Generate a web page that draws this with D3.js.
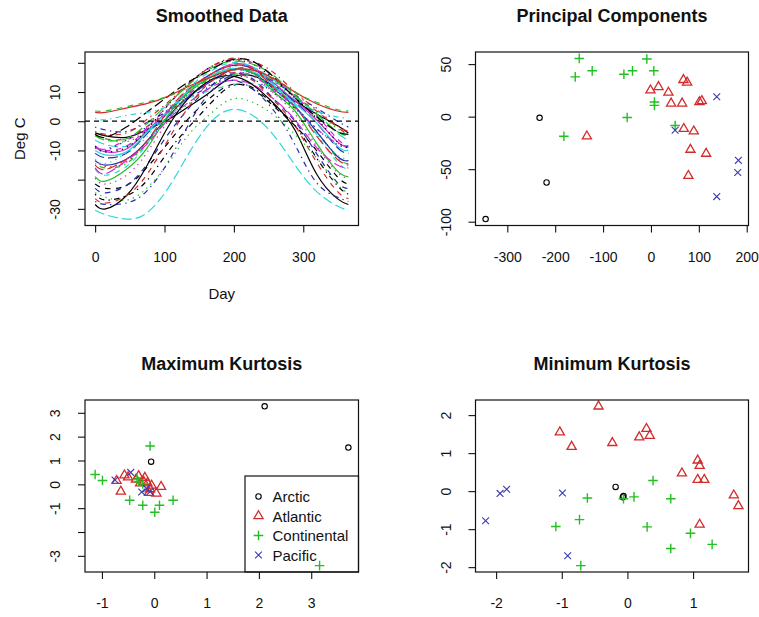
<!DOCTYPE html>
<html>
<head>
<meta charset="utf-8">
<script src="https://cdn.jsdelivr.net/npm/d3@7"></script>
<style>
  body { margin: 0; background: #fff; }
  text { font-family: "Liberation Sans", Arial, sans-serif; fill: #111; }
</style>
</head>
<body>
<div id="chart"></div>
<script>
// ---- smoothed temperature curves (deg C), one row per station ----
var days = [0, 15, 45, 74, 105, 135, 166, 196, 227, 258, 288, 319, 349, 365];
var stations = ["St. Johns","Halifax","Sydney","Yarmouth","Charlottvl","Fredericton","Scheffervll",
  "Arvida","Bagottville","Quebec","Sherbrooke","Montreal","Ottawa","Toronto","London","Thunder Bay",
  "Winnipeg","The Pas","Churchill","Regina","Pr. Albert","Uranium Cty","Edmonton","Calgary","Kamloops",
  "Vancouver","Victoria","Pr. George","Pr. Rupert","Whitehorse","Dawson","Yellowknife","Iqaluit","Inuvik","Resolute"];
var tempCurves = [
  [-4, -5, -5.5, -3, 0.5, 5, 10, 15, 15.5, 12, 7, 2.5, -1.5, -4],
  [-4.5, -6, -6, -2, 3, 8.5, 13.5, 17.5, 18, 14, 8.5, 3.5, -2, -4.5],
  [-4.5, -6, -7, -3.5, 1, 6, 11.5, 17, 17.5, 13.5, 8, 3, -2.5, -4.5],
  [-2, -3, -3.5, -0.5, 3.5, 8, 12, 15.5, 16.5, 13.5, 9, 4.5, 0, -2],
  [-6.5, -8, -8.5, -4, 1.5, 8, 14, 18.5, 18.5, 14, 8.5, 2.5, -4, -6.5],
  [-9, -10.5, -9.5, -3.5, 3.5, 10.5, 16, 19.5, 18.5, 13, 7, 0.5, -7, -9],
  [-21.5, -23, -22, -16, -7.5, 1, 8, 12.5, 11, 5, -1.5, -10, -19, -21.5],
  [-13.5, -15.5, -14, -7, 1.5, 9.5, 15.5, 18, 16.5, 11, 4.5, -3.5, -12, -13.5],
  [-14.5, -16, -14.5, -7.5, 1, 9, 15, 18, 16.5, 11, 4.5, -3.5, -12.5, -14.5],
  [-11, -12.5, -11, -4.5, 3, 10.5, 16, 19, 18, 12.5, 6.5, -0.5, -9, -11],
  [-10, -11.5, -10.5, -4, 3.5, 10.5, 15.5, 18, 17, 12, 6, -0.5, -8.5, -10],
  [-8.5, -10, -8.5, -2.5, 5.5, 13, 18.5, 21, 20, 15, 8.5, 2, -6, -8.5],
  [-9, -10.5, -9, -3, 5.5, 13, 18.5, 21, 19.5, 14.5, 8, 1, -7, -9],
  [-3.5, -4.5, -4, 0.5, 6.5, 13, 18.5, 21.5, 20.5, 16.5, 10, 4, -1.5, -3.5],
  [-5, -6.5, -6, -1, 6, 12.5, 18, 20.5, 19.5, 15.5, 9, 2.5, -3.5, -5],
  [-13.5, -15, -13, -7, 1.5, 8.5, 13.5, 17.5, 16.5, 11, 5, -3.5, -12, -13.5],
  [-16.5, -18.5, -15.5, -8, 3, 11.5, 17, 20, 18.5, 12.5, 5.5, -4.5, -14, -16.5],
  [-19.5, -21.5, -18.5, -11, 0, 8, 14.5, 17.5, 16, 9.5, 2.5, -8.5, -17.5, -19.5],
  [-25, -27, -25.5, -20.5, -10.5, -2, 6, 12, 11.5, 5.5, -1.5, -12.5, -22, -25],
  [-15, -16.5, -13, -7, 3.5, 11, 16, 19, 18, 11.5, 5, -5, -13, -15],
  [-19, -20.5, -16.5, -9.5, 2, 10, 15, 17.5, 16.5, 10, 3.5, -7.5, -17, -19],
  [-23, -24.5, -22, -15, -4.5, 4.5, 12, 16, 14.5, 7.5, 0, -11, -21, -23],
  [-13, -14.5, -11, -5.5, 4, 11, 15, 17.5, 16.5, 11, 5, -4.5, -11.5, -13],
  [-8.5, -9.5, -6.5, -3, 3.5, 9.5, 13.5, 16.5, 15.5, 10.5, 5, -2.5, -7.5, -8.5],
  [-4.5, -5.5, -2, 3, 8.5, 13.5, 17.5, 21, 20.5, 15, 8, 1.5, -3.5, -4.5],
  [3, 3, 4.5, 6, 8.5, 12, 15, 17.5, 17.5, 14.5, 10, 6, 3.5, 3],
  [3.5, 3.5, 5, 6.5, 8.5, 11.5, 14, 16, 16, 14, 10, 6.5, 4, 3.5],
  [-8.5, -10, -6.5, -2, 4, 9, 12.5, 15, 14.5, 9.5, 4.5, -2.5, -8, -8.5],
  [1, 0.5, 2, 3, 5, 8, 10.5, 12.5, 13, 11, 7.5, 3.5, 1.5, 1],
  [-16, -18, -13.5, -8, 0.5, 6.5, 11.5, 14, 12.5, 7.5, 0.5, -9, -15, -16],
  [-28.5, -30, -25.5, -15.5, -2, 8, 14, 15.5, 12.5, 6, -3, -18, -26.5, -28.5],
  [-26.5, -28, -25.5, -18.5, -6.5, 5, 13.5, 16.5, 14, 7, -1.5, -14, -24, -26.5],
  [-24.5, -26, -27, -23, -14.5, -4.5, 2.5, 7.5, 6.5, 2, -4.5, -12.5, -21.5, -24.5],
  [-27.5, -28.5, -28, -24, -14, -1, 10, 14, 11, 3.5, -8, -21, -26, -27.5],
  [-30.5, -32, -33.5, -31.5, -23, -11, -0.5, 4, 2, -5, -15, -24, -29, -30.5]
];

// ---- principal component scores [pc1, pc2] by region ----
var pcArctic = [[-232.6, -1.1], [-218, -62.7], [-345.3, -97.5]];
var pcAtlantic = [[-133.8, -18.7], [-1, 25.1], [15.7, 28.3], [36.5, 22.9], [42.1, 12.6], [65.1, 12.6],
  [67.8, 35], [75.5, 32.5], [101.2, 13.9], [106.2, 14.9], [68.6, -11.6], [89.5, -13.9], [82.4, -31.4],
  [115.2, -35.2], [78.2, -56.3]];
var pcContinental = [[-149.8, 55.4], [-158.1, 37.8], [-122.7, 43.6], [-56.5, 40.4], [-38.6, 43.6],
  [-8.6, 54.8], [6, 43.6], [7.3, 13.9], [7.3, 10.7], [-49.7, -0.8], [-181.8, -18.7], [50.5, -8.4]];
var pcPacific = [[137.4, 19], [50.5, -12.9], [182.6, -41.6], [181.2, -53.1], [137.4, -76.1]];

// ---- maximum kurtosis projection ----
var maxArctic = [[2.11, 3.27], [3.71, 1.54], [-0.06, 0.95]];
var maxAtlantic = [[-0.72, 0.15], [-0.64, -0.3], [-0.57, 0.38], [-0.5, 0.3], [-0.3, 0.35], [-0.27, 0.05],
  [-0.18, 0.28], [-0.13, 0.05], [-0.1, -0.35], [-0.05, -0.05], [0.04, -0.38], [0.13, -0.1], [-0.2, 0.1],
  [-0.08, -0.2], [-0.35, 0.2]];
var maxContinental = [[-0.08, 1.61], [-1.13, 0.41], [-0.99, 0.16], [-0.47, -0.67], [-0.22, -0.88],
  [0.01, -1.17], [0.1, -0.88], [0.36, -0.67], [3.16, -3.41], [-0.33, 0.22], [-0.3, 0.12], [-0.22, 0.02]];
var maxPacific = [[-0.75, 0.18], [-0.45, 0.5], [-0.24, -0.32], [-0.08, -0.3], [-0.15, -0.18]];

// ---- minimum kurtosis projection ----
var minArctic = [[-0.18, 0.11], [-0.06, -0.13], [-0.07, -0.16]];
var minAtlantic = [[-0.44, 2.23], [-1.03, 1.55], [-0.85, 1.17], [-0.23, 1.27], [0.29, 1.64], [0.18, 1.42],
  [0.34, 1.46], [1.07, 0.81], [1.1, 0.67], [0.83, 0.47], [1.07, 0.3], [1.17, 0.3], [1.62, -0.11],
  [1.69, -0.39], [1.1, -0.88]];
var minContinental = [[0.39, 0.28], [-0.61, -0.18], [0.1, -0.15], [-0.06, -0.2], [0.66, -0.2],
  [-0.73, -0.75], [-1.09, -0.93], [0.3, -0.94], [0.96, -1.11], [1.29, -1.4], [0.66, -1.51], [-0.71, -1.96]];
var minPacific = [[-2.16, -0.78], [-1.94, -0.06], [-1.84, 0.05], [-0.99, -0.05], [-0.91, -1.7]];

var regions = ["Arctic", "Atlantic", "Continental", "Pacific"];

// ---- tick values and labels ----
var smoothXTicks = [0, 100, 200, 300];
var smoothYTicks = [-30, -20, -10, 0, 10, 20];
var smoothYLabels = ["-30", "", "-10", "0", "10", ""];
var pcXTicks = [-300, -200, -100, 0, 100, 200];
var pcYTicks = [-100, -50, 0, 50];
var maxXTicks = [-1, 0, 1, 2, 3];
var maxYTicks = [-3, -2, -1, 0, 1, 2, 3];
var maxYLabels = ["-3", "", "-1", "0", "1", "2", "3"];
var minXTicks = [-2, -1, 0, 1];
var minYTicks = [-2, -1, 0, 1, 2];

// R palette look-alikes and lty dash patterns
var rCols = ["#000000", "#d42a2a", "#22c022", "#2a2ab0", "#2ed8d8", "#d02ad0"];
var rDash = [null, "5.5,5.5", "1.4,4.2", "1.4,4.2,5.5,4.2", "10,4"];
var regionCol = ["#000000", "#d42a2a", "#22c022", "#3a3ab0"];

var W = 759, H = 617;
var svg = d3.select("#chart").append("svg")
  .attr("width", W).attr("height", H);
svg.append("rect").attr("width", W).attr("height", H).attr("fill", "#fff");

// plot boxes (like par(mfrow=c(2,2)))
var boxes = [
  {x0: 85, x1: 358.5, y0: 52, y1: 225.5},
  {x0: 475.5, x1: 748.5, y0: 52, y1: 225.5},
  {x0: 85, x1: 358.5, y0: 400, y1: 572},
  {x0: 475.5, x1: 748.5, y0: 400, y1: 572}
];

function pad(ext) {   // R's 4% axis extension
  var d = (ext[1] - ext[0]) * 0.04;
  return [ext[0] - d, ext[1] + d];
}

function fmt(v) { return String(v); }

function drawFrame(b, x, y, xt, yt, ylab, title) {
  var g = svg.append("g");
  var ax = g.append("g").attr("transform", "translate(0," + b.y1 + ")")
    .call(d3.axisBottom(x).tickValues(xt).tickSizeOuter(0).tickSizeInner(7).tickFormat(fmt));
  ax.select(".domain").remove();
  ax.selectAll("line").attr("stroke", "#111").attr("stroke-width", 1.1);
  ax.selectAll("text").attr("y", 36).attr("dy", null)
    .style("font-size", "14px").attr("fill", "#111");

  var ay = g.append("g").attr("transform", "translate(" + b.x0 + ",0)")
    .call(d3.axisLeft(y).tickValues(yt).tickSizeOuter(0).tickSizeInner(7)
      .tickFormat(function(d, i) { return ylab ? ylab[i] : fmt(d); }));
  ay.select(".domain").remove();
  ay.selectAll("line").attr("stroke", "#111").attr("stroke-width", 1.1);
  ay.selectAll("text").attr("x", null).attr("dy", null)
    .attr("text-anchor", "middle")
    .attr("transform", "translate(-25,0) rotate(-90)")
    .style("font-size", "14px").attr("fill", "#111");

  g.append("rect")
    .attr("x", b.x0).attr("y", b.y0)
    .attr("width", b.x1 - b.x0).attr("height", b.y1 - b.y0)
    .attr("fill", "none").attr("stroke", "#111").attr("stroke-width", 1.2);

  svg.append("text")
    .attr("x", (b.x0 + b.x1) / 2).attr("y", b.y0 - 30)
    .attr("text-anchor", "middle")
    .style("font-size", "18px").style("font-weight", "bold")
    .text(title);
}

// R point characters: 1 circle, 2 triangle, 3 plus, 4 cross
var R = 3.4;
function drawPch(g, type, cx, cy, col) {
  if (type === 0) {
    g.append("circle").attr("cx", cx).attr("cy", cy).attr("r", 2.7)
      .attr("fill", "none").attr("stroke", col).attr("stroke-width", 1.1);
  } else if (type === 1) {
    var r = 1.555 * R, xc = 0.866 * r, yc = 0.5 * r;
    g.append("path")
      .attr("d", "M" + cx + "," + (cy - r) + "L" + (cx + xc) + "," + (cy + yc) + "L" + (cx - xc) + "," + (cy + yc) + "Z")
      .attr("fill", "none").attr("stroke", col).attr("stroke-width", 1.3);
  } else if (type === 2) {
    var s = 1.414 * R;
    g.append("path")
      .attr("d", "M" + (cx - s) + "," + cy + "H" + (cx + s) + "M" + cx + "," + (cy - s) + "V" + (cy + s))
      .attr("stroke", col).attr("stroke-width", 1.4);
  } else {
    g.append("path")
      .attr("d", "M" + (cx - R) + "," + (cy - R) + "L" + (cx + R) + "," + (cy + R) +
        "M" + (cx - R) + "," + (cy + R) + "L" + (cx + R) + "," + (cy - R))
      .attr("stroke", col).attr("stroke-width", 1.1);
  }
}

// ---------- panel 1: smoothed data ----------
(function() {
  var b = boxes[0];
  var x = d3.scaleLinear().domain(pad(d3.extent(days))).range([b.x0, b.x1]);
  var y = d3.scaleLinear().domain(pad(d3.extent(d3.merge(tempCurves)))).range([b.y1, b.y0]);
  var line = d3.line()
    .x(function(d, i) { return x(days[i]); })
    .y(function(d) { return y(d); })
    .curve(d3.curveNatural);
  svg.append("g").selectAll("path").data(tempCurves).join("path")
    .attr("d", line)
    .attr("fill", "none")
    .attr("stroke", function(d, i) { return rCols[i % 6]; })
    .attr("stroke-width", 1.2)
    .attr("stroke-dasharray", function(d, i) { return rDash[i % 5]; });
  svg.append("line")
    .attr("x1", b.x0).attr("x2", b.x1).attr("y1", y(0)).attr("y2", y(0))
    .attr("stroke", "#000").attr("stroke-width", 1.3).attr("stroke-dasharray", "5,4");
  drawFrame(b, x, y, smoothXTicks, smoothYTicks, smoothYLabels, "Smoothed Data");
  svg.append("text").attr("x", (b.x0 + b.x1) / 2).attr("y", b.y1 + 73)
    .attr("text-anchor", "middle").style("font-size", "15px").text("Day");
  svg.append("text").attr("transform", "translate(25," + ((b.y0 + b.y1) / 2) + ") rotate(-90)")
    .attr("text-anchor", "middle").style("font-size", "15px").text("Deg C");
})();

// ---------- scatter panels ----------
var layers = [];
function scatter(b, groups, xt, yt, ylab, title) {
  var all = d3.merge(groups);
  var x = d3.scaleLinear().domain(pad(d3.extent(all, function(d) { return d[0]; }))).range([b.x0, b.x1]);
  var y = d3.scaleLinear().domain(pad(d3.extent(all, function(d) { return d[1]; }))).range([b.y1, b.y0]);
  var g = svg.append("g");
  layers.push(g);
  groups.forEach(function(pts, k) {
    pts.forEach(function(p) { drawPch(g, k, x(p[0]), y(p[1]), regionCol[k]); });
  });
  drawFrame(b, x, y, xt, yt, ylab, title);
}

scatter(boxes[1], [pcArctic, pcAtlantic, pcContinental, pcPacific], pcXTicks, pcYTicks, null, "Principal Components");
scatter(boxes[2], [maxArctic, maxAtlantic, maxContinental, maxPacific], maxXTicks, maxYTicks, maxYLabels, "Maximum Kurtosis");
scatter(boxes[3], [minArctic, minAtlantic, minContinental, minPacific], minXTicks, minYTicks, null, "Minimum Kurtosis");

// ---------- legend (bottomright of panel 3, transparent background) ----------
(function() {
  var b = boxes[2];
  var lg = svg.append("g");
  lg.append("rect")
    .attr("x", 245).attr("y", 476)
    .attr("width", b.x1 - 245).attr("height", b.y1 - 476)
    .attr("fill", "none").attr("stroke", "#111").attr("stroke-width", 1.2);
  regions.forEach(function(name, k) {
    var cy = 496.5 + k * 19.5;
    drawPch(lg, k, 258.5, cy, regionCol[k]);
    lg.append("text").attr("x", 272.5).attr("y", cy + 5.5)
      .style("font-size", "15px").text(name);
  });
  layers[1].raise();
})();
</script>
</body>
</html>
